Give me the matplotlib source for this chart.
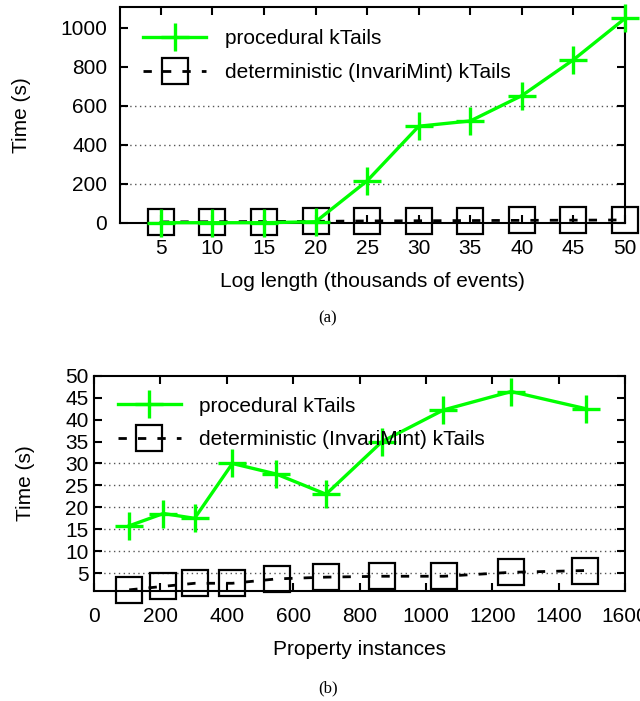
import matplotlib
matplotlib.use("Agg")
import matplotlib.pyplot as plt
import numpy as np

plt.rcParams['font.family'] = ['Liberation Sans', 'DejaVu Sans']

# (a) log length experiment
log_len = [5, 10, 15, 20, 25, 30, 35, 40, 45, 50]
proc_a = [0, 0, 0, 5, 215, 495, 522, 652, 836, 1048]
det_a = [4, 5, 6, 7, 9, 10, 11, 12, 13, 14]
grid_a = [200, 400, 600]

# (b) property instances experiment
prop_proc = [106, 209, 303, 417, 549, 699, 868, 1053, 1257, 1481]
proc_b = [15.8, 18.6, 17.5, 30.0, 27.6, 23.0, 35.0, 42.2, 46.4, 42.5]
prop_det = [106, 209, 304, 417, 551, 699, 868, 1054, 1257, 1479]
det_b = [1.2, 2.0, 2.7, 2.7, 3.7, 4.1, 4.3, 4.3, 5.2, 5.6]
grid_b = [5, 10, 15, 20, 25, 30]

green = '#00ff00'
fs = 15

fig = plt.figure(figsize=(6.4, 7.01), dpi=100)
ax1 = fig.add_axes([0.187, 0.6823, 0.7896, 0.3073])
ax2 = fig.add_axes([0.1469, 0.1573, 0.8297, 0.3067])


def style(ax):
    for s in ax.spines.values():
        s.set_linewidth(1.5)
    ax.tick_params(direction='in', length=6, width=1.5, top=True, right=True,
                   labelsize=fs)
    ax.tick_params(axis='x', pad=12)
    ax.tick_params(axis='y', pad=9)


for ax, gl in ((ax1, grid_a), (ax2, grid_b)):
    for g in gl:
        ax.axhline(g, color='#555555', lw=1, ls=(0, (1, 2.5)), zorder=0)

ax1.plot(log_len, proc_a, color=green, lw=2.4, marker='+', ms=20, mew=2.4,
         clip_on=False, zorder=4, label='procedural kTails')
ax1.plot(log_len, det_a, color='black', lw=2, ls=(0, (3, 4)), marker='s',
         ms=19, mfc='none', mec='black', mew=1.6, clip_on=False, zorder=3,
         label='deterministic (InvariMint) kTails')
ax1.set_xlim(1, 50)
ax1.set_ylim(0, 1105)
ax1.set_xticks(log_len)
ax1.set_yticks([0, 200, 400, 600, 800, 1000])
ax1.set_xlabel('Log length (thousands of events)', fontsize=fs, labelpad=10)
ax1.set_ylabel('Time (s)', fontsize=fs, labelpad=21)
style(ax1)
ax1.legend(loc='upper left', frameon=False, fontsize=fs, handlelength=3.0,
           borderaxespad=0.5, labelspacing=0.7, handletextpad=0.9,
           bbox_to_anchor=(0.01, 0.985))

ax2.plot(prop_proc, proc_b, color=green, lw=2.4, marker='+', ms=20, mew=2.4,
         clip_on=False, zorder=4, label='procedural kTails')
ax2.plot(prop_det, det_b, color='black', lw=2, ls=(0, (3, 4)), marker='s',
         ms=19, mfc='none', mec='black', mew=1.6, clip_on=False, zorder=3,
         label='deterministic (InvariMint) kTails')
ax2.set_xlim(0, 1600)
ax2.set_ylim(1, 50)
ax2.set_xticks(range(0, 1601, 200))
ax2.set_yticks(range(5, 51, 5))
ax2.set_xlabel('Property instances', fontsize=fs, labelpad=10)
ax2.set_ylabel('Time (s)', fontsize=fs, labelpad=22)
style(ax2)
ax2.tick_params(axis='y', pad=4)
ax2.legend(loc='upper left', frameon=False, fontsize=fs, handlelength=3.0,
           borderaxespad=0.5, labelspacing=0.7, handletextpad=0.9,
           bbox_to_anchor=(0.01, 0.99))

fig.text(0.5125, 1 - 318 / 701, '(a)', family='Liberation Serif', fontsize=12,
         ha='center', va='center')
fig.text(0.5125, 1 - 688 / 701, '(b)', family='Liberation Serif', fontsize=12,
         ha='center', va='center')

fig.savefig('out.png', dpi=100)
